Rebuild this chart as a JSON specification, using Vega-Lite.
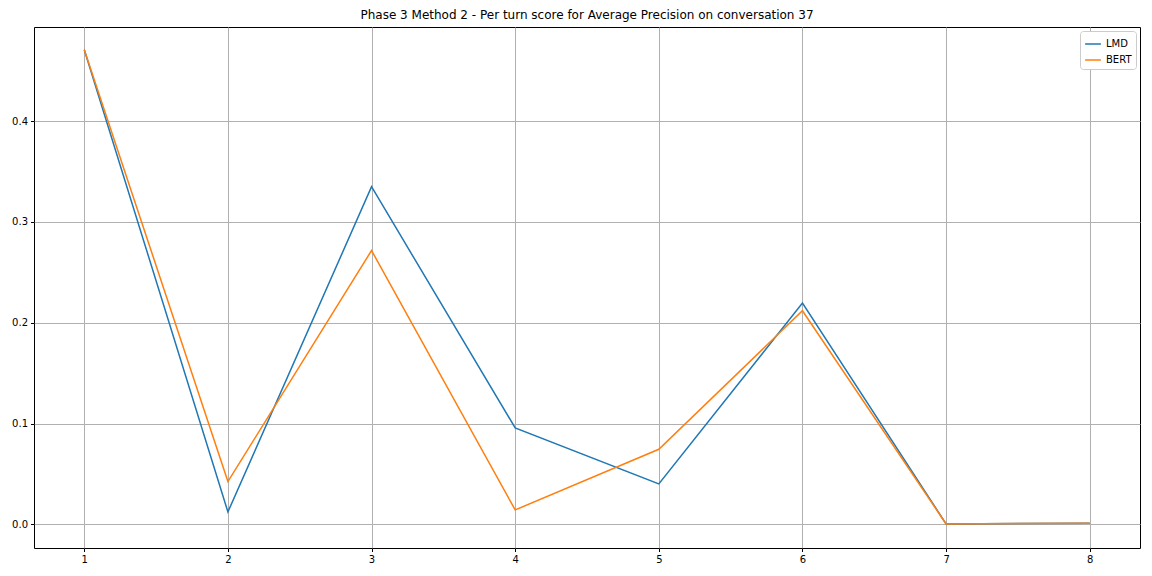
{
  "$schema": "https://vega.github.io/schema/vega-lite/v6.json",
  "width": 1106,
  "height": 521,
  "autosize": {"type": "none"},
  "padding": {"left": 34, "top": 27, "right": 12, "bottom": 28},
  "background": "white",
  "title": {"text": "Phase 3 Method 2 - Per turn score for Average Precision on conversation 37", "font": "DejaVu Sans", "fontSize": 12, "fontWeight": "normal", "color": "black", "offset": 5},
  "config": {
    "view": {"stroke": "black", "strokeWidth": 1},
    "axis": {"labelFont": "DejaVu Sans", "labelFontSize": 10, "labelColor": "black", "tickColor": "black", "tickSize": 3.5, "domain": false, "gridColor": "#b0b0b0", "gridWidth": 1, "gridOpacity": 1, "labelPadding": 3}
  },
  "data": {"values": [
    {"turn": 1, "model": "LMD", "score": 0.471},
    {"turn": 2, "model": "LMD", "score": 0.0123},
    {"turn": 3, "model": "LMD", "score": 0.335},
    {"turn": 4, "model": "LMD", "score": 0.0957},
    {"turn": 5, "model": "LMD", "score": 0.0401},
    {"turn": 6, "model": "LMD", "score": 0.2195},
    {"turn": 7, "model": "LMD", "score": 0.0004},
    {"turn": 8, "model": "LMD", "score": 0.001},
    {"turn": 1, "model": "BERT", "score": 0.471},
    {"turn": 2, "model": "BERT", "score": 0.0424},
    {"turn": 3, "model": "BERT", "score": 0.2717},
    {"turn": 4, "model": "BERT", "score": 0.0143},
    {"turn": 5, "model": "BERT", "score": 0.0745},
    {"turn": 6, "model": "BERT", "score": 0.2119},
    {"turn": 7, "model": "BERT", "score": 0.0004},
    {"turn": 8, "model": "BERT", "score": 0.001}
  ]},
  "mark": {"type": "line", "strokeWidth": 1.5},
  "encoding": {
    "x": {"field": "turn", "type": "quantitative", "title": null,
      "scale": {"domain": [0.65, 8.35], "nice": false, "zero": false},
      "axis": {"values": [1,2,3,4,5,6,7,8], "format": "d"}},
    "y": {"field": "score", "type": "quantitative", "title": null,
      "scale": {"domain": [-0.0235, 0.4935], "nice": false, "zero": false},
      "axis": {"values": [0, 0.1, 0.2, 0.3, 0.4], "format": ".1f"}},
    "color": {"field": "model", "type": "nominal", "title": null,
      "scale": {"domain": ["LMD", "BERT"], "range": ["#1f77b4", "#ff7f0e"]},
      "legend": {"orient": "top-right", "offset": 4, "symbolType": "stroke", "symbolSize": 250, "symbolStrokeWidth": 1.5, "labelFont": "DejaVu Sans", "labelFontSize": 10, "labelColor": "black", "fillColor": "white", "strokeColor": "#cccccc", "padding": 4, "cornerRadius": 3, "rowPadding": 2}
    },
    "order": {"field": "turn"}
  }
}
